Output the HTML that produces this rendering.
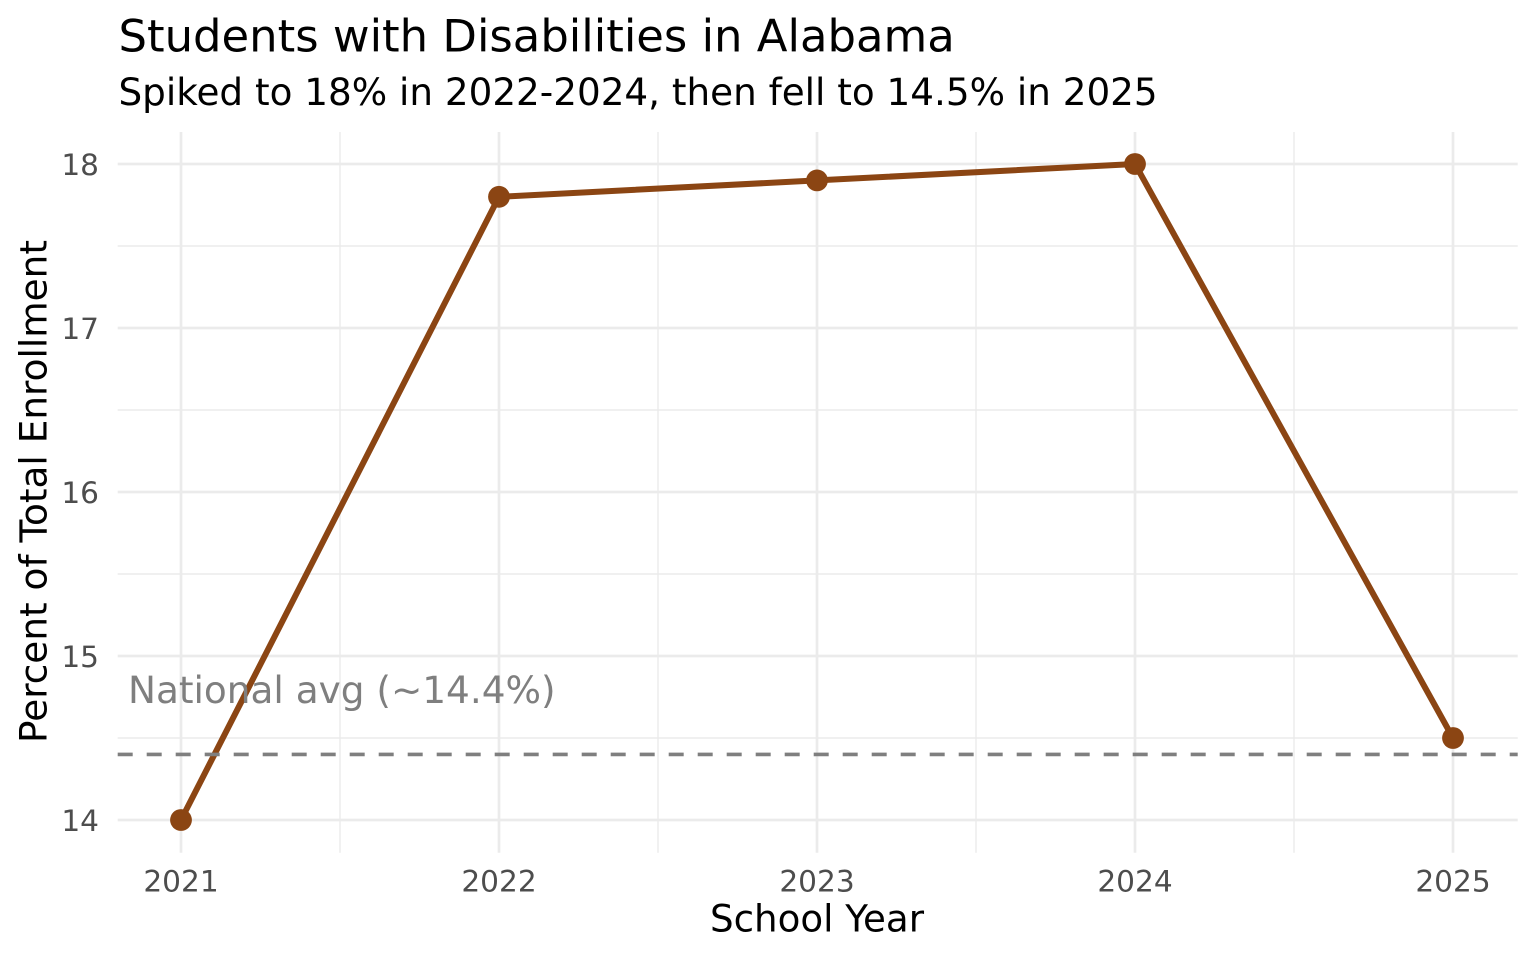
<!DOCTYPE html>
<html>
<head>
<meta charset="utf-8">
<style>
  html, body { margin:0; padding:0; background:#ffffff; }
  svg { display:block; }
  text { font-family: "DejaVu Sans", "Liberation Sans", sans-serif; }
</style>
</head>
<body>
<svg width="1536" height="960" viewBox="0 0 1536 960" xmlns="http://www.w3.org/2000/svg">
  <rect x="0" y="0" width="1536" height="960" fill="#ffffff"/>

  <!-- minor gridlines -->
  <g stroke="#ebebeb" stroke-width="1.4" fill="none">
    <line x1="117.7" y1="246" x2="1517.7" y2="246"/>
    <line x1="117.7" y1="410" x2="1517.7" y2="410"/>
    <line x1="117.7" y1="574" x2="1517.7" y2="574"/>
    <line x1="117.7" y1="738" x2="1517.7" y2="738"/>
    <line x1="340" y1="132" x2="340" y2="852.7"/>
    <line x1="658" y1="132" x2="658" y2="852.7"/>
    <line x1="976" y1="132" x2="976" y2="852.7"/>
    <line x1="1294" y1="132" x2="1294" y2="852.7"/>
  </g>
  <!-- major gridlines -->
  <g stroke="#ebebeb" stroke-width="2.7" fill="none">
    <line x1="117.7" y1="164" x2="1517.7" y2="164"/>
    <line x1="117.7" y1="328" x2="1517.7" y2="328"/>
    <line x1="117.7" y1="492" x2="1517.7" y2="492"/>
    <line x1="117.7" y1="656" x2="1517.7" y2="656"/>
    <line x1="117.7" y1="820" x2="1517.7" y2="820"/>
    <line x1="181" y1="132" x2="181" y2="852.7"/>
    <line x1="499" y1="132" x2="499" y2="852.7"/>
    <line x1="817" y1="132" x2="817" y2="852.7"/>
    <line x1="1135" y1="132" x2="1135" y2="852.7"/>
    <line x1="1453" y1="132" x2="1453" y2="852.7"/>
  </g>

  <!-- data line -->
  <polyline points="181,820 499,196.8 817,180.4 1135,164 1453,738" fill="none" stroke="#8B4513" stroke-width="6" stroke-linejoin="round" stroke-linecap="butt"/>
  <g fill="#8B4513">
    <circle cx="181" cy="820" r="10.9"/>
    <circle cx="499" cy="196.8" r="10.9"/>
    <circle cx="817" cy="180.4" r="10.9"/>
    <circle cx="1135" cy="164" r="10.9"/>
    <circle cx="1453" cy="738" r="10.9"/>
  </g>

  <!-- national average dashed line -->
  <line x1="117.7" y1="754.4" x2="1517.7" y2="754.4" stroke="#7f7f7f" stroke-width="3.6" stroke-dasharray="15 14"/>
  <text x="128" y="703" font-size="37.4" fill="#7f7f7f">National avg (~14.4%)</text>

  <!-- y tick labels -->
  <g font-size="29.6" fill="#4d4d4d" text-anchor="end">
    <text x="99" y="175">18</text>
    <text x="99" y="339">17</text>
    <text x="99" y="503">16</text>
    <text x="99" y="667">15</text>
    <text x="99" y="831">14</text>
  </g>
  <!-- x tick labels -->
  <g font-size="29.6" fill="#4d4d4d" text-anchor="middle">
    <text x="181" y="891.5">2021</text>
    <text x="499" y="891.5">2022</text>
    <text x="817" y="891.5">2023</text>
    <text x="1135" y="891.5">2024</text>
    <text x="1453" y="891.5">2025</text>
  </g>

  <!-- axis titles -->
  <text x="817" y="931.5" font-size="37.2" fill="#000000" text-anchor="middle">School Year</text>
  <text transform="translate(46.5,491.5) rotate(-90)" font-size="37.4" fill="#000000" text-anchor="middle">Percent of Total Enrollment</text>

  <!-- title and subtitle -->
  <text x="118.5" y="51.7" font-size="44.9" fill="#000000">Students with Disabilities in Alabama</text>
  <text x="118.5" y="105" font-size="37.3" fill="#000000">Spiked to 18% in 2022-2024, then fell to 14.5% in 2025</text>
</svg>
</body>
</html>
